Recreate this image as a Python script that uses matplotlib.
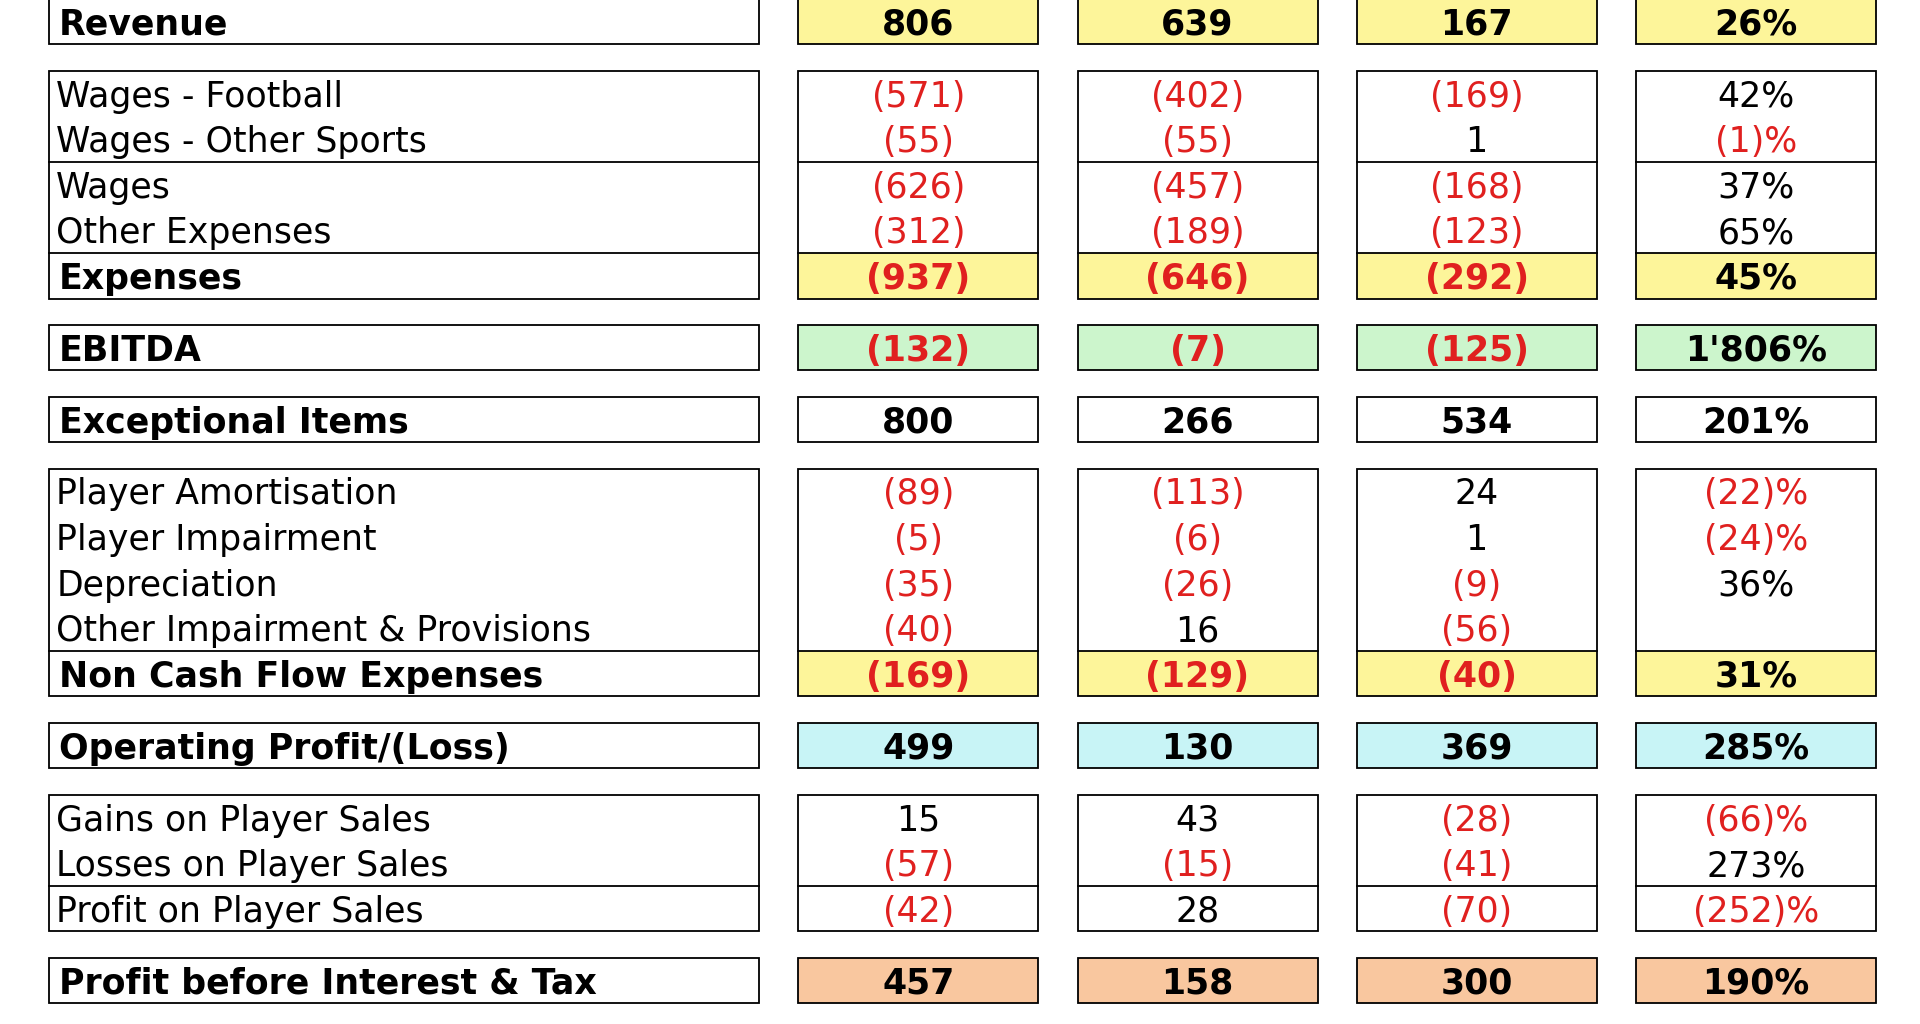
import matplotlib.pyplot as plt
from matplotlib.patches import Rectangle

# table data
labels = ["Revenue",
          "Wages - Football", "Wages - Other Sports", "Wages", "Other Expenses", "Expenses",
          "EBITDA",
          "Exceptional Items",
          "Player Amortisation", "Player Impairment", "Depreciation",
          "Other Impairment & Provisions", "Non Cash Flow Expenses",
          "Operating Profit/(Loss)",
          "Gains on Player Sales", "Losses on Player Sales", "Profit on Player Sales",
          "Profit before Interest & Tax"]
col1 = [806, -571, -55, -626, -312, -937, -132, 800, -89, -5, -35, -40, -169, 499, 15, -57, -42, 457]
col2 = [639, -402, -55, -457, -189, -646, -7, 266, -113, -6, -26, 16, -129, 130, 43, -15, 28, 158]
col3 = [167, -169, 1, -168, -123, -292, -125, 534, 24, 1, -9, -56, -40, 369, -28, -41, -70, 300]
pct = [26, 42, -1, 37, 65, 45, 1806, 201, -22, -24, 36, None, 31, 285, -66, 273, -252, 190]

# groups: (first row, last row), fill colour of the bold row
groups = [(0, 0), (1, 5), (6, 6), (7, 7), (8, 12), (13, 13), (14, 16), (17, 17)]
bold_rows = {0: "#fdf59a", 5: "#fdf59a", 6: "#ccf5cc", 7: "#ffffff",
             12: "#fdf59a", 13: "#c8f4f6", 17: "#f9c79f"}
line_above = [3, 5, 12, 16]

RED = "#e0201f"
FS = 25


def fmt_num(v):
    return f"({abs(v)})" if v < 0 else str(v)


def fmt_pct(v):
    if v is None:
        return ""
    s = f"{abs(v):,}".replace(",", "'")
    return f"({s})%" if v < 0 else f"{s}%"


fig = plt.figure(figsize=(19.2, 10.24), dpi=100)
ax = fig.add_axes([0, 0, 1, 1])
ax.set_xlim(0, 1568)
ax.set_ylim(836, 0)
ax.axis("off")

boxes = [(40, 620), (652, 848), (880, 1076), (1108, 1304), (1336, 1532)]
row_h = 37.2
gap = 21.5

y = -1
row_top = {}
for g0, g1 in groups:
    top = y
    for r in range(g0, g1 + 1):
        row_top[r] = y
        y += row_h
    bottom = y
    for bi, (x0, x1) in enumerate(boxes):
        for r in range(g0, g1 + 1):
            if r in bold_rows and bi > 0:
                ax.add_patch(Rectangle((x0, row_top[r]), x1 - x0, row_h,
                                       facecolor=bold_rows[r], edgecolor="none"))
        ax.add_patch(Rectangle((x0, top), x1 - x0, bottom - top,
                               facecolor="none", edgecolor="black", lw=1.3))
        for r in line_above:
            if g0 < r <= g1:
                ax.plot([x0, x1], [row_top[r], row_top[r]], color="black", lw=1.3)
    y += gap

for r, lab in enumerate(labels):
    cy = row_top[r] + row_h / 2 + 2.5
    bold = r in bold_rows
    w = "bold" if bold else "normal"
    ax.text(48 if bold else 46, cy, lab, fontsize=FS, fontweight=w,
            ha="left", va="center", family="DejaVu Sans")
    for (x0, x1), v in zip(boxes[1:4], (col1[r], col2[r], col3[r])):
        ax.text((x0 + x1) / 2, cy, fmt_num(v), fontsize=FS, fontweight=w,
                ha="center", va="center", color=RED if v < 0 else "black")
    p = pct[r]
    x0, x1 = boxes[4]
    ax.text((x0 + x1) / 2, cy, fmt_pct(p), fontsize=FS, fontweight=w,
            ha="center", va="center",
            color=RED if (p is not None and p < 0) else "black")

fig.savefig("out.png", dpi=100)
